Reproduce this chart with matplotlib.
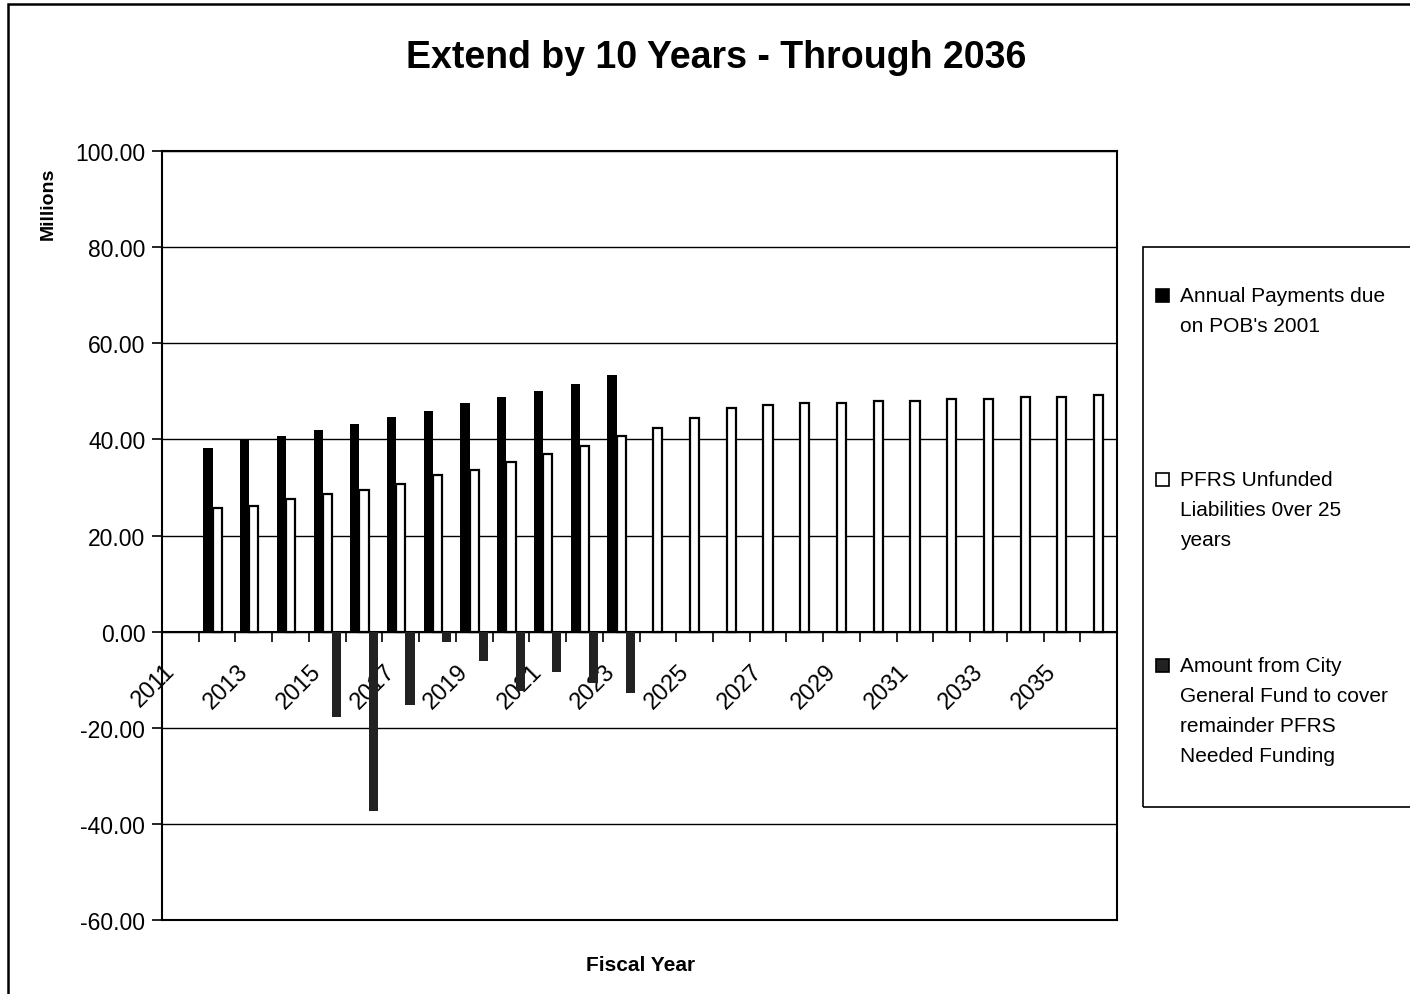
import matplotlib.pyplot as plt
import matplotlib.patches as mpatches
import numpy as np

plt.rcParams['font.family'] = ['Liberation Sans', 'DejaVu Sans']

# data (millions)
years = list(range(2011, 2037))
pob_payments = [np.nan, 38.2, 39.8, 40.8, 42.0, 43.2, 44.6, 45.8, 47.6, 48.8, 50.0, 51.6, 53.3] + [np.nan] * 13
pfrs_unfunded = [np.nan, 25.7, 26.1, 27.5, 28.7, 29.5, 30.8, 32.5, 33.7, 35.3, 37.0, 38.7, 40.6,
                 42.4, 44.5, 46.5, 47.1, 47.6, 47.6, 47.9, 47.9, 48.4, 48.4, 48.8, 48.8, 49.2]
city_fund = [np.nan] * 4 + [-17.7, -37.4, -15.2, -2.2, -6.2, -12.4, -8.3, -10.7, -12.8] + [np.nan] * 13
tick_years = years[::2]

labels = ["Annual Payments due\non POB's 2001",
          "PFRS Unfunded\nLiabilities 0ver 25\nyears",
          "Amount from City\nGeneral Fund to cover\nremainder PFRS\nNeeded Funding"]

fig = plt.figure(figsize=(14.1, 9.95), dpi=100)
ax = fig.add_axes([162 / 1410, 1 - 921 / 995, (1117 - 162) / 1410, (921 - 152) / 995])

x = np.arange(len(years))
w = 0.25
ax.bar(x - w, pob_payments, w, color='black', zorder=3)
ax.bar(x, pfrs_unfunded, w, color='white', edgecolor='black', linewidth=1.6, zorder=3)
ax.bar(x + w, city_fund, w, color='#222222', zorder=3)

ax.set_xlim(-0.5, len(years) - 0.5)
ax.set_ylim(-60, 100)
ax.set_yticks(np.arange(-60, 101, 20))
ax.set_yticklabels(['%.2f' % v for v in np.arange(-60, 101, 20)], fontsize=16.5)
ax.yaxis.grid(True, color='black', linewidth=1)
ax.set_axisbelow(True)

# category axis sits on the zero line
ax.spines['bottom'].set_position(('data', 0))
ax.spines['bottom'].set_linewidth(1.5)
ax.plot([0, 1], [0, 0], transform=ax.transAxes, color='black', lw=1.5, clip_on=False)
for s in ['top', 'left', 'right']:
    ax.spines[s].set_linewidth(1.5)

ax.set_xticks(np.arange(len(years) + 1) - 0.5)
ax.set_xticklabels([])
# rotated labels sit a little left of the category centre, as in the original
ax.set_xticks([years.index(y) - 0.46 for y in tick_years], minor=True)
ax.set_xticklabels([str(y) for y in tick_years], minor=True, fontsize=17,
                   rotation=45, ha='right', va='top', rotation_mode='anchor')
ax.tick_params(axis='x', which='major', direction='out', length=7, width=1.2)
ax.tick_params(axis='x', which='minor', length=0, pad=20)
ax.tick_params(axis='y', direction='out', length=7, width=1.2, pad=5)

fig.text(0.508, 0.942, 'Extend by 10 Years - Through 2036', fontsize=27, fontweight='bold',
         ha='center', va='center')
fig.text(0.034, 0.795, 'Millions', fontsize=14, fontweight='bold', rotation=90,
         ha='center', va='center')
fig.text(0.454, 0.030, 'Fiscal Year', fontsize=15, fontweight='bold', ha='center', va='center')

# legend box drawn by hand to match the wide spacing
fig.add_artist(mpatches.Rectangle((1143 / 1410, 1 - 808 / 995), 0.3, (808 - 248) / 995,
                                  transform=fig.transFigure, fill=False, edgecolor='black', lw=1.2))
faces = ['black', 'white', '#222222']
first_line = [296, 480, 666]
for lab, fc, yp in zip(labels, faces, first_line):
    fig.add_artist(mpatches.Rectangle((1156 / 1410, 1 - (yp + 7) / 995), 13 / 1410, 13 / 995,
                                      transform=fig.transFigure, facecolor=fc, edgecolor='black', lw=1.2))
    fig.text(1180 / 1410, 1 - (yp - 9) / 995, lab, fontsize=15, ha='left', va='top', linespacing=1.74)

# outer chart border (right and bottom run off the image)
fig.add_artist(mpatches.Rectangle((8 / 1410, -0.1), 1.2, 1.1 - 5 / 995, transform=fig.transFigure,
                                  fill=False, edgecolor='black', lw=1.8))

fig.savefig('out.png', dpi=100)
